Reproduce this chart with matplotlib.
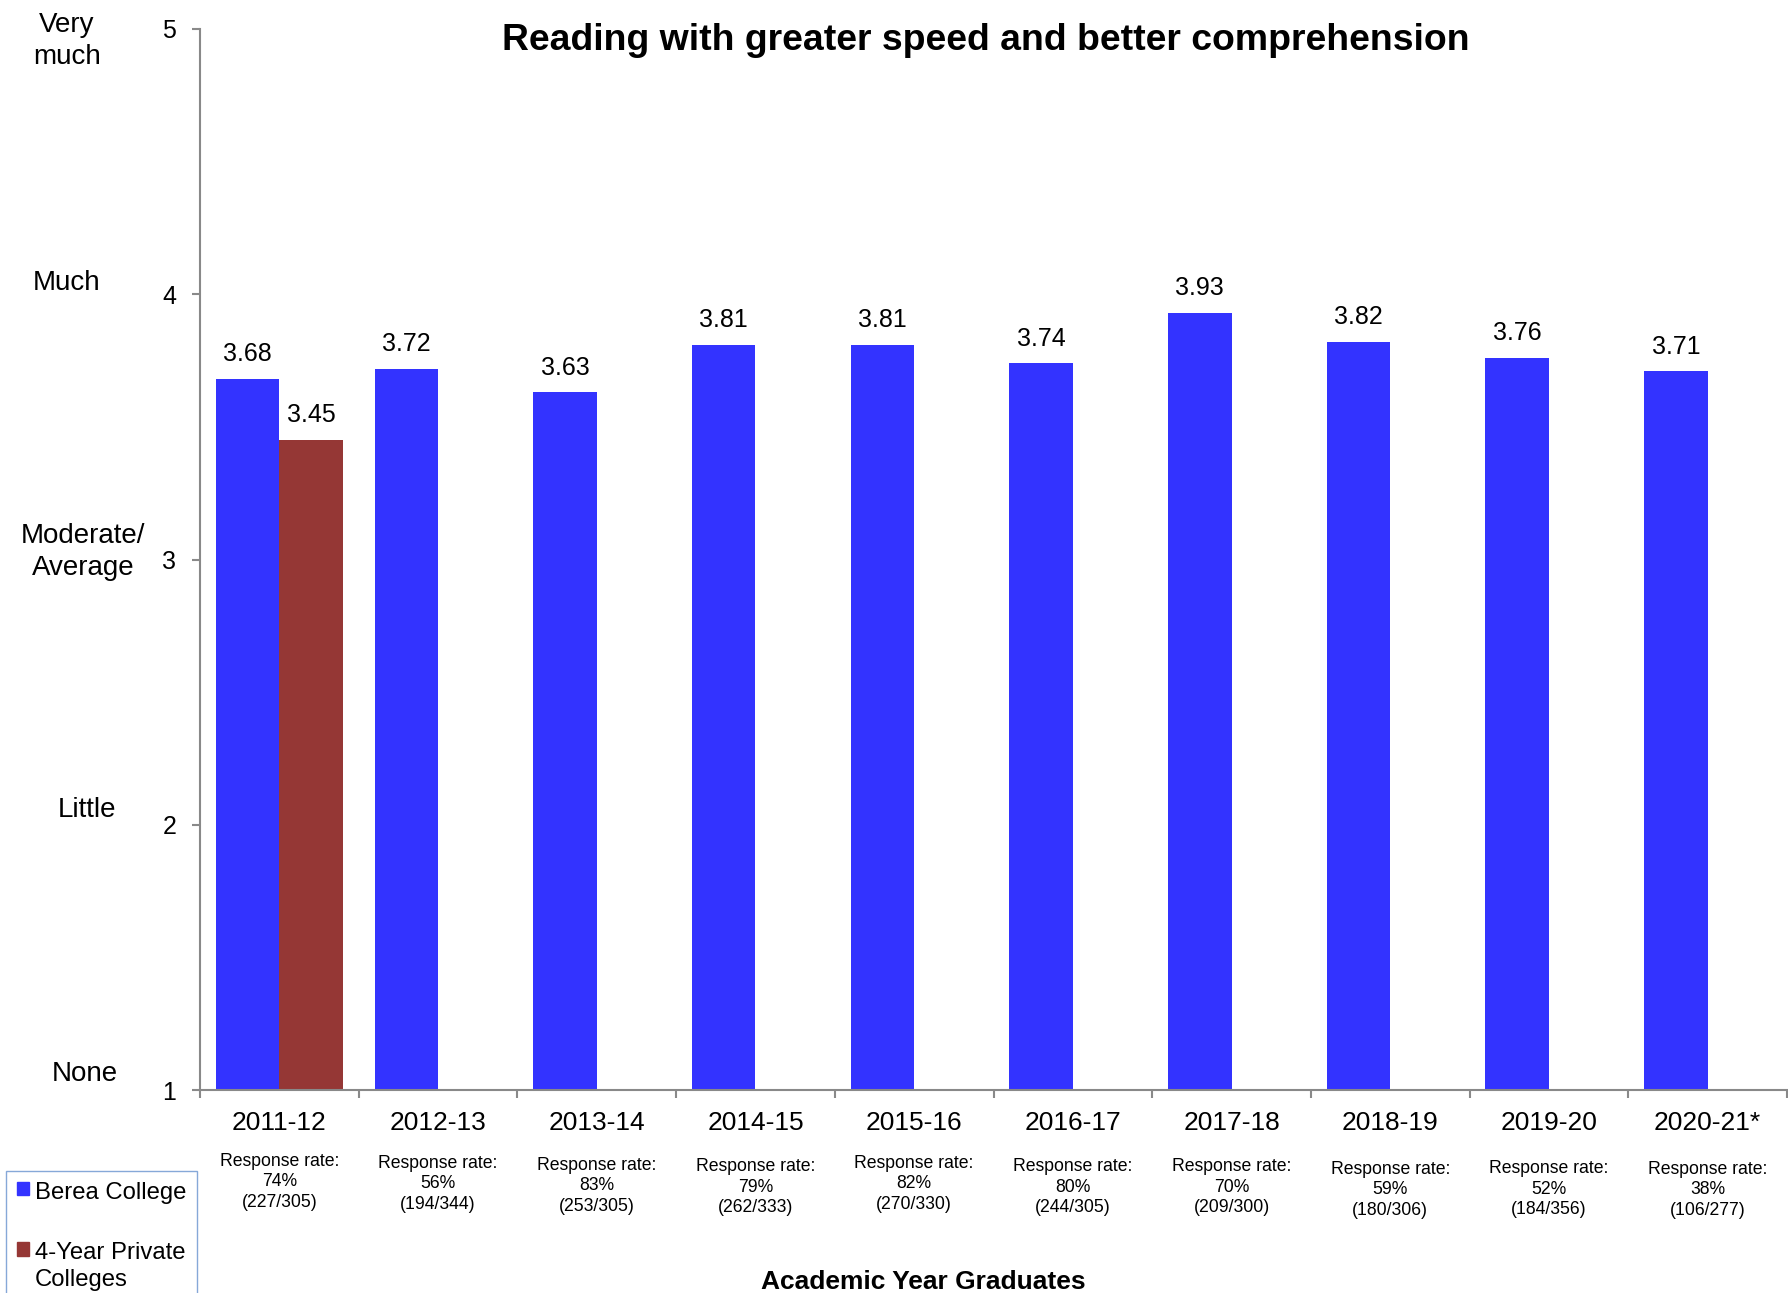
import numpy as np
import matplotlib.pyplot as plt
import matplotlib.transforms as mtransforms
from matplotlib.patches import Patch

plt.rcParams["font.family"] = ["Liberation Sans", "DejaVu Sans"]

# datos del grafico
anios = ["2011-12", "2012-13", "2013-14", "2014-15", "2015-16",
         "2016-17", "2017-18", "2018-19", "2019-20", "2020-21*"]
berea = [3.68, 3.72, 3.63, 3.81, 3.81, 3.74, 3.93, 3.82, 3.76, 3.71]
privadas = [3.45, np.nan, np.nan, np.nan, np.nan,
            np.nan, np.nan, np.nan, np.nan, np.nan]
tasa = ["74%", "56%", "83%", "79%", "82%", "80%", "70%", "59%", "52%", "38%"]
respondieron = [227, 194, 253, 262, 270, 244, 209, 180, 184, 106]
total = [305, 344, 305, 333, 330, 305, 300, 306, 356, 277]
escala = ["None", "Little", "Moderate/\nAverage", "Much", "Very\nmuch"]
escala_y = [1, 2, 3, 4, 5]

azul = "#3333FF"
rojo = "#953735"
gris = "#898989"

W, H = 1788, 1293
fig = plt.figure(figsize=(W / 100, H / 100), dpi=100)
ax = fig.add_axes([200 / W, 203 / H, 1587 / W, 1061 / H])

x = np.arange(len(anios))
ax.bar(x - 0.2, berea, 0.4, color=azul, label="Berea College")
ax.bar(x + 0.2, privadas, 0.4, color=rojo, label="4-Year Private\nColleges")

ax.set_xlim(-0.5, len(anios) - 0.5)
ax.set_ylim(1, 5)

## ejes
for s in ["top", "right"]:
    ax.spines[s].set_visible(False)
for s in ["left", "bottom"]:
    ax.spines[s].set_color(gris)
    ax.spines[s].set_linewidth(1.5)

ax.set_yticks(escala_y, [str(v) for v in escala_y])
ax.tick_params(axis="y", direction="out", length=5.5, width=1.5, color=gris,
               pad=11.5, labelsize=18)

ax.set_xticks(np.arange(-0.5, len(anios), 1.0))
ax.set_xticklabels([])
ax.tick_params(axis="x", which="major", direction="out", length=5.5, width=1.5, color=gris)
ax.set_xticks(x, anios, minor=True)
ax.tick_params(axis="x", which="minor", length=0, pad=15.3, labelsize=19)

## etiquetas de valores
for xi, v in zip(x, berea):
    ax.annotate(f"{v:.2f}", (xi - 0.2, v), xytext=(0, 12.7), textcoords="offset points",
                ha="center", va="baseline", fontsize=18)
for xi, v in zip(x, privadas):
    if not np.isnan(v):
        ax.annotate(f"{v:.2f}", (xi + 0.2, v), xytext=(0, 12.7), textcoords="offset points",
                    ha="center", va="baseline", fontsize=18)

## tasa de respuesta debajo de cada anio (cada cuadro esta un poco a distinta altura)
alto_nota = [1182, 1184, 1186, 1187, 1184, 1187, 1187, 1190, 1189, 1190]
trans = mtransforms.blended_transform_factory(ax.transData, fig.transFigure)
for xi, t, r, n, py in zip(x, tasa, respondieron, total, alto_nota):
    ax.text(xi, 1 - py / H, f"Response rate:\n{t}\n({r}/{n})", transform=trans,
            ha="center", va="center", fontsize=12.7, linespacing=1.3)

## escala verbal a la izquierda
pos_escala = [(85, 1074), (87, 810), (83, 552), (67, 283), (67, 41)]
for txt, (px, py) in zip(escala, pos_escala):
    fig.text(px / W, 1 - py / H, txt, ha="center", va="center", fontsize=20,
             linespacing=1.3)

## titulo y eje x
fig.text(986 / W, 1 - 50 / H, "Reading with greater speed and better comprehension",
         ha="center", va="baseline", fontsize=26.9, fontweight="bold")
fig.text(923 / W, 1 - 1289 / H, "Academic Year Graduates",
         ha="center", va="baseline", fontsize=19, fontweight="bold")

## leyenda
handles = [Patch(color=azul), Patch(color=rojo)]
leg = fig.legend(handles, ["Berea College", "4-Year Private\nColleges"],
                 loc="upper left", bbox_to_anchor=(6 / W, 1 - 1171 / H),
                 borderaxespad=0, fontsize=17.2, handlelength=0.5, handleheight=0.5,
                 handletextpad=0.25, borderpad=0.45, labelspacing=1.6,
                 fancybox=False, framealpha=1, edgecolor="#86A8D8")
leg.get_frame().set_linewidth(1.0)
for t in leg.get_texts():
    t.set_linespacing(1.3)
# el cuadrito va alineado con la primera linea del texto
for col in leg._legend_handle_box.get_children():
    for item in col.get_children():
        item.align = "top"

fig.savefig("out.png", dpi=100)
